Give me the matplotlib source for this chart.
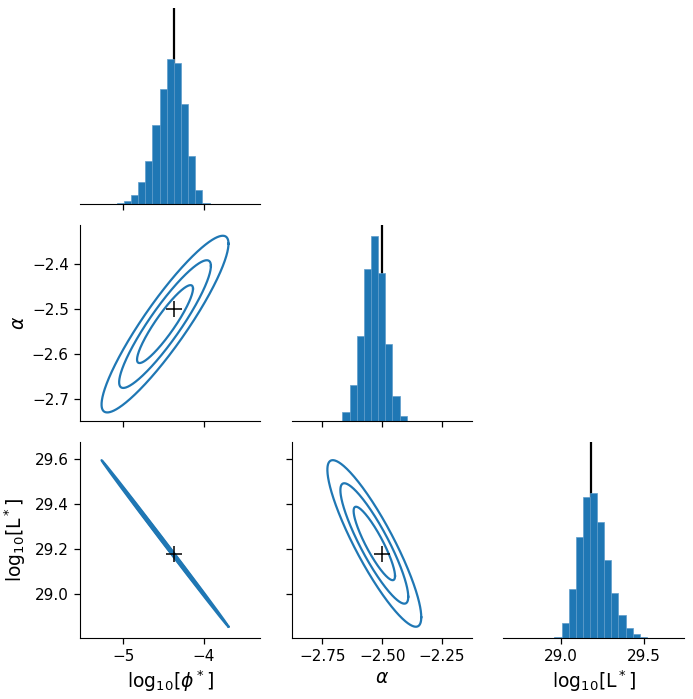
import numpy as np
import matplotlib
matplotlib.use("Agg")
import matplotlib.pyplot as plt

# ---------------- data ----------------
param_labels = [r'log$_{10}$[$\phi^*$]', r'$\alpha$', r'log$_{10}$[L$^*$]']
truth = [-4.37, -2.50, 29.18]

# Gaussian (Fisher-like) contour parameters
means = [-4.48, -2.533, 29.225]
sigmas = [0.230, 0.0570, 0.1076]
# pairwise correlations
corr_phi_alpha = 0.91
corr_phi_L = -0.9996
corr_alpha_L = -0.885
contour_dchi2 = [2.30, 6.18, 11.83]

# histogram samples (bin range and counts)
hist_phi_range = (-5.083, -3.925)
hist_phi_counts = [3, 10, 28, 66, 129, 234, 342, 430, 418, 297, 143, 42, 3]
hist_alpha_range = (-2.666, -2.398)
hist_alpha_counts = [27, 107, 255, 454, 555, 442, 232, 76, 14]
hist_L_range = (28.964, 29.516)
hist_L_counts = [3, 45, 145, 300, 420, 433, 347, 232, 133, 68, 30, 12, 3]

# axis ticks / limits
xlims = [(-5.54, -3.29), (-2.878, -2.124), (28.659, 29.738)]
ylims = [None, (-2.748, -2.313), (28.805, 29.676)]
ticks = [[-5, -4], [-2.75, -2.50, -2.25], [29.0, 29.5]]
yticks = [None, [-2.7, -2.6, -2.5, -2.4], [29.0, 29.2, 29.4, 29.6]]
ticklabels_x = [['−5', '−4'], ['−2.75', '−2.50', '−2.25'], ['29.0', '29.5']]
ticklabels_y = [None, ['−2.7', '−2.6', '−2.5', '−2.4'], ['29.0', '29.2', '29.4', '29.6']]
hist_top_factor = [1.353, 1.058, 1.351]

# ---------------- plotting ----------------
blue = '#1f77b4'
fig, axes = plt.subplots(3, 3, figsize=(6.93, 6.99), dpi=100)
fig.subplots_adjust(left=0.1154, right=0.987, top=0.9886, bottom=0.0873,
                    wspace=0.173, hspace=0.107)

hists = [(hist_phi_range, hist_phi_counts),
         (hist_alpha_range, hist_alpha_counts),
         (hist_L_range, hist_L_counts)]
corr = {(1, 0): corr_phi_alpha, (2, 0): corr_phi_L, (2, 1): corr_alpha_L}

for i in range(3):
    for j in range(3):
        ax = axes[i, j]
        if j > i:
            ax.axis('off')
            continue
        for s in ['top', 'right']:
            ax.spines[s].set_visible(False)
        ax.tick_params(labelsize=11, width=0.9, length=4.5)
        ax.set_xlim(*xlims[j])
        ax.set_xticks(ticks[j])
        if i == 2:
            ax.set_xticklabels(ticklabels_x[j])
            ax.set_xlabel(param_labels[j], fontsize=13.5, labelpad=3)
        else:
            ax.set_xticklabels([])
        if i == j:
            rng, counts = hists[i]
            counts = np.array(counts, float)
            edges = np.linspace(rng[0], rng[1], len(counts) + 1)
            ax.axvline(truth[i], color='black', lw=1.6, zorder=1)
            ax.bar(edges[:-1], counts, width=np.diff(edges), align='edge',
                   color=blue, edgecolor='#5e9ccb', linewidth=0.5, zorder=2)
            ax.set_ylim(0, counts.max() * hist_top_factor[i])
            ax.spines['left'].set_visible(False)
            ax.set_yticks([])
        else:
            rho = corr[(i, j)]
            cov = np.array([[sigmas[j] ** 2, rho * sigmas[j] * sigmas[i]],
                            [rho * sigmas[j] * sigmas[i], sigmas[i] ** 2]])
            Lc = np.linalg.cholesky(cov)
            t = np.linspace(0, 2 * np.pi, 600)
            circ = np.vstack([np.cos(t), np.sin(t)])
            for k in contour_dchi2:
                pts = Lc @ (np.sqrt(k) * circ)
                ax.plot(means[j] + pts[0], means[i] + pts[1], color=blue, lw=1.6)
            ax.plot(truth[j], truth[i], marker='+', color='black',
                    markersize=12, mew=1.1, linestyle='none', zorder=5)
            ax.set_ylim(*ylims[i])
            ax.set_yticks(yticks[i])
            if j == 0:
                ax.set_yticklabels(ticklabels_y[i])
                ax.set_ylabel(param_labels[i], fontsize=13.5, labelpad=3)
            else:
                ax.set_yticklabels([])

fig.align_ylabels(axes[:, 0])
fig.savefig('out.png', dpi=100)
